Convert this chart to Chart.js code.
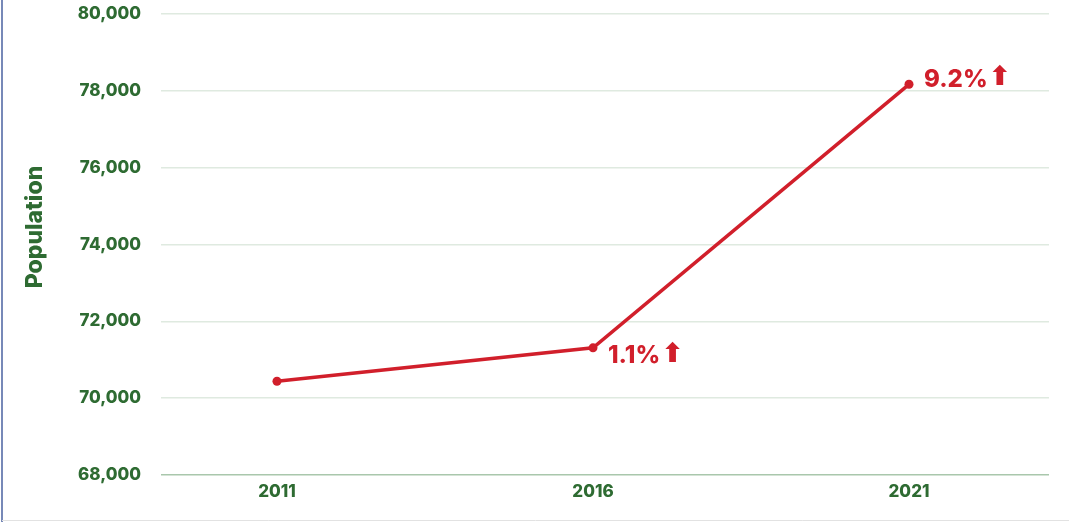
<!DOCTYPE html>
<html>
<head>
<meta charset="utf-8">
<script src="https://cdn.jsdelivr.net/npm/chart.js@4/dist/chart.umd.min.js"></script>
<style>
    html, body { margin: 0; padding: 0; background: #fff; }
    #popChart { display: block; }
</style>
</head>
<body>
<canvas id="popChart" width="1069" height="522"></canvas>
<script>
const years = [2011, 2016, 2021];
const population = [70440, 71310, 78170];
const growthLabels = ['', '1.1%', '9.2%'];
const yTicks = [68000, 70000, 72000, 74000, 76000, 78000, 80000];

const green = '#2e6b32';
const red = '#d11f2b';
const fontFamily = 'Inter, "DejaVu Sans", sans-serif';

// frame lines round the chart
const framePlugin = {
    id: 'frame',
    beforeDraw(chart) {
        const ctx = chart.ctx;
        ctx.save();
        ctx.fillStyle = '#fff';
        ctx.fillRect(0, 0, chart.width, chart.height);
        ctx.strokeStyle = '#4a62a0';
        ctx.lineWidth = 1.5;
        ctx.beginPath();
        ctx.moveTo(2, 0);
        ctx.lineTo(2, chart.height);
        ctx.stroke();
        ctx.strokeStyle = '#e2e2e2';
        ctx.lineWidth = 1;
        ctx.beginPath();
        ctx.moveTo(2, chart.height - 1.5);
        ctx.lineTo(chart.width, chart.height - 1.5);
        ctx.stroke();
        ctx.restore();
    }
};

// rotated axis title, sits a bit above the plot centre
const yTitlePlugin = {
    id: 'yTitle',
    afterDraw(chart) {
        const ctx = chart.ctx;
        ctx.save();
        ctx.translate(35, 227);
        ctx.rotate(-Math.PI / 2);
        ctx.font = '800 23px ' + fontFamily;
        ctx.fillStyle = green;
        ctx.textAlign = 'center';
        ctx.textBaseline = 'middle';
        ctx.fillText('Population', 0, 0);
        ctx.restore();
    }
};

// growth labels next to the points
const growthPlugin = {
    id: 'growth',
    afterDatasetsDraw(chart) {
        const ctx = chart.ctx;
        const pts = chart.getDatasetMeta(0).data;
        const dy = [0, 8, -5];
        ctx.save();
        ctx.fillStyle = red;
        ctx.textBaseline = 'middle';
        ctx.textAlign = 'left';
        pts.forEach((p, i) => {
            if (!growthLabels[i]) return;
            ctx.font = '800 24px ' + fontFamily;
            const x = p.x + 15;
            const y = p.y + dy[i];
            ctx.fillText(growthLabels[i], x, y);
            const w = ctx.measureText(growthLabels[i]).width;
            ctx.font = 'bold 27px "DejaVu Sans"';
            ctx.fillText('\u2B06', x + w + 1, y - 1);
        });
        ctx.restore();
    }
};

const ctx = document.getElementById('popChart').getContext('2d');
new Chart(ctx, {
    type: 'line',
    data: {
        datasets: [{
            data: years.map((y, i) => ({ x: y, y: population[i] })),
            borderColor: red,
            backgroundColor: red,
            borderWidth: 3.5,
            pointRadius: 4.5,
            pointBackgroundColor: red,
            pointBorderWidth: 0,
            tension: 0
        }]
    },
    options: {
        responsive: false,
        animation: false,
        layout: {
            padding: { top: 14, right: 20, bottom: 0, left: 0 }
        },
        plugins: {
            legend: { display: false },
            tooltip: { enabled: false }
        },
        scales: {
            x: {
                type: 'linear',
                min: 2009.165,
                max: 2023.215,
                afterBuildTicks: scale => {
                    scale.ticks = years.map(v => ({ value: v }));
                },
                afterFit: scale => {
                    scale.height = 47;
                    scale.paddingLeft = 0;
                    scale.paddingRight = 0;
                },
                grid: { display: false, drawTicks: false },
                border: { display: false },
                ticks: {
                    padding: 7,
                    color: green,
                    font: { family: fontFamily, size: 17, weight: '800' },
                    callback: v => String(v)
                }
            },
            y: {
                min: 68000,
                max: 80000,
                afterBuildTicks: scale => {
                    scale.ticks = yTicks.map(v => ({ value: v }));
                },
                afterFit: scale => {
                    scale.width = 161;
                    scale.paddingTop = 0;
                    scale.paddingBottom = 0;
                },
                grid: {
                    drawTicks: false,
                    lineWidth: 1.5,
                    color: c => c.tick && c.tick.value === 68000 ? '#a9c7ac' : '#dfeae0'
                },
                border: { display: false },
                ticks: {
                    padding: 20,
                    color: green,
                    font: { family: fontFamily, size: 17, weight: '800' },
                    callback: v => v.toLocaleString('en-US')
                }
            }
        }
    },
    plugins: [framePlugin, yTitlePlugin, growthPlugin]
});
</script>
</body>
</html>
